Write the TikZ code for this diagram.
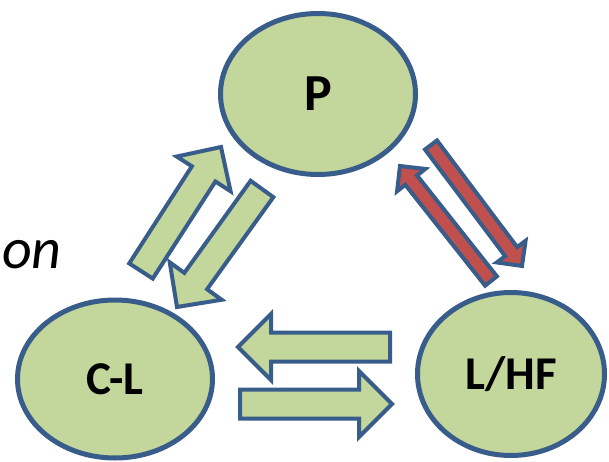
\documentclass[tikz,border=0pt]{standalone}
\usepackage{fontspec}
\setmainfont{Carlito}
\usetikzlibrary{shapes.geometric,calc}

\definecolor{leaf}{HTML}{C3D69B}
\definecolor{rim}{HTML}{385D8A}
\definecolor{brick}{HTML}{C0504D}

\tikzset{
  ell/.style={draw=rim, fill=leaf, ellipse, line width=5pt, inner sep=0pt,
    font=\bfseries\fontsize{47}{47}\selectfont},
  greenarrow/.style={draw=rim, fill=leaf, line width=4pt},
  redarrow/.style={draw=rim, fill=brick, line width=4pt}
}

% block arrow: style, tail, tip, half shaft width, half head width
\newcommand{\fatarrow}[5]{%
  \coordinate (fa-h) at ($(#3)!#5!(#2)$);
  \draw[#1] ($(#2)!#4!90:(#3)$) -- ($(fa-h)!#4!90:(#3)$) -- ($(fa-h)!#5!90:(#3)$) -- (#3)
    -- ($(fa-h)!#5!-90:(#3)$) -- ($(fa-h)!#4!-90:(#3)$) -- ($(#2)!#4!-90:(#3)$) -- cycle;
}

\begin{document}
\begin{tikzpicture}[x=1pt,y=-1pt]
        \useasboundingbox (0,0) rectangle (609,462);

        \node[ell, minimum width=195pt, minimum height=161pt,
              font=\bfseries\fontsize{52}{52}\selectfont] (p) at (318,94) {P};
        \node[ell, minimum width=195pt, minimum height=158pt] (cl) at (115,379) {C-L};
        \node[ell, minimum width=187pt, minimum height=163pt] (lhf) at (511,374) {L/HF};

        \node[anchor=base west, inner sep=0pt, font=\itshape\fontsize{58}{58}\selectfont]
              (word) at (2,268) {on};

        \coordinate (g1a) at (141,271);   \coordinate (g1b) at (221,147);
        \coordinate (g2a) at (262,189);   \coordinate (g2b) at (177,307);
        \coordinate (g3a) at (390,347);   \coordinate (g3b) at (238,347);
        \coordinate (g4a) at (240,404);   \coordinate (g4b) at (392,404);
        \coordinate (r1a) at (431,145);   \coordinate (r1b) at (522,266);
        \coordinate (r2a) at (491,281);   \coordinate (r2b) at (400,166);

        \fatarrow{greenarrow}{g1a}{g1b}{14pt}{32pt}
        \fatarrow{greenarrow}{g2a}{g2b}{14pt}{32pt}
        \fatarrow{greenarrow}{g3a}{g3b}{14.5pt}{33pt}
        \fatarrow{greenarrow}{g4a}{g4b}{14.5pt}{33pt}
        \fatarrow{redarrow}{r1a}{r1b}{7.5pt}{18pt}
        \fatarrow{redarrow}{r2a}{r2b}{7.5pt}{18pt}
\end{tikzpicture}
\end{document}
